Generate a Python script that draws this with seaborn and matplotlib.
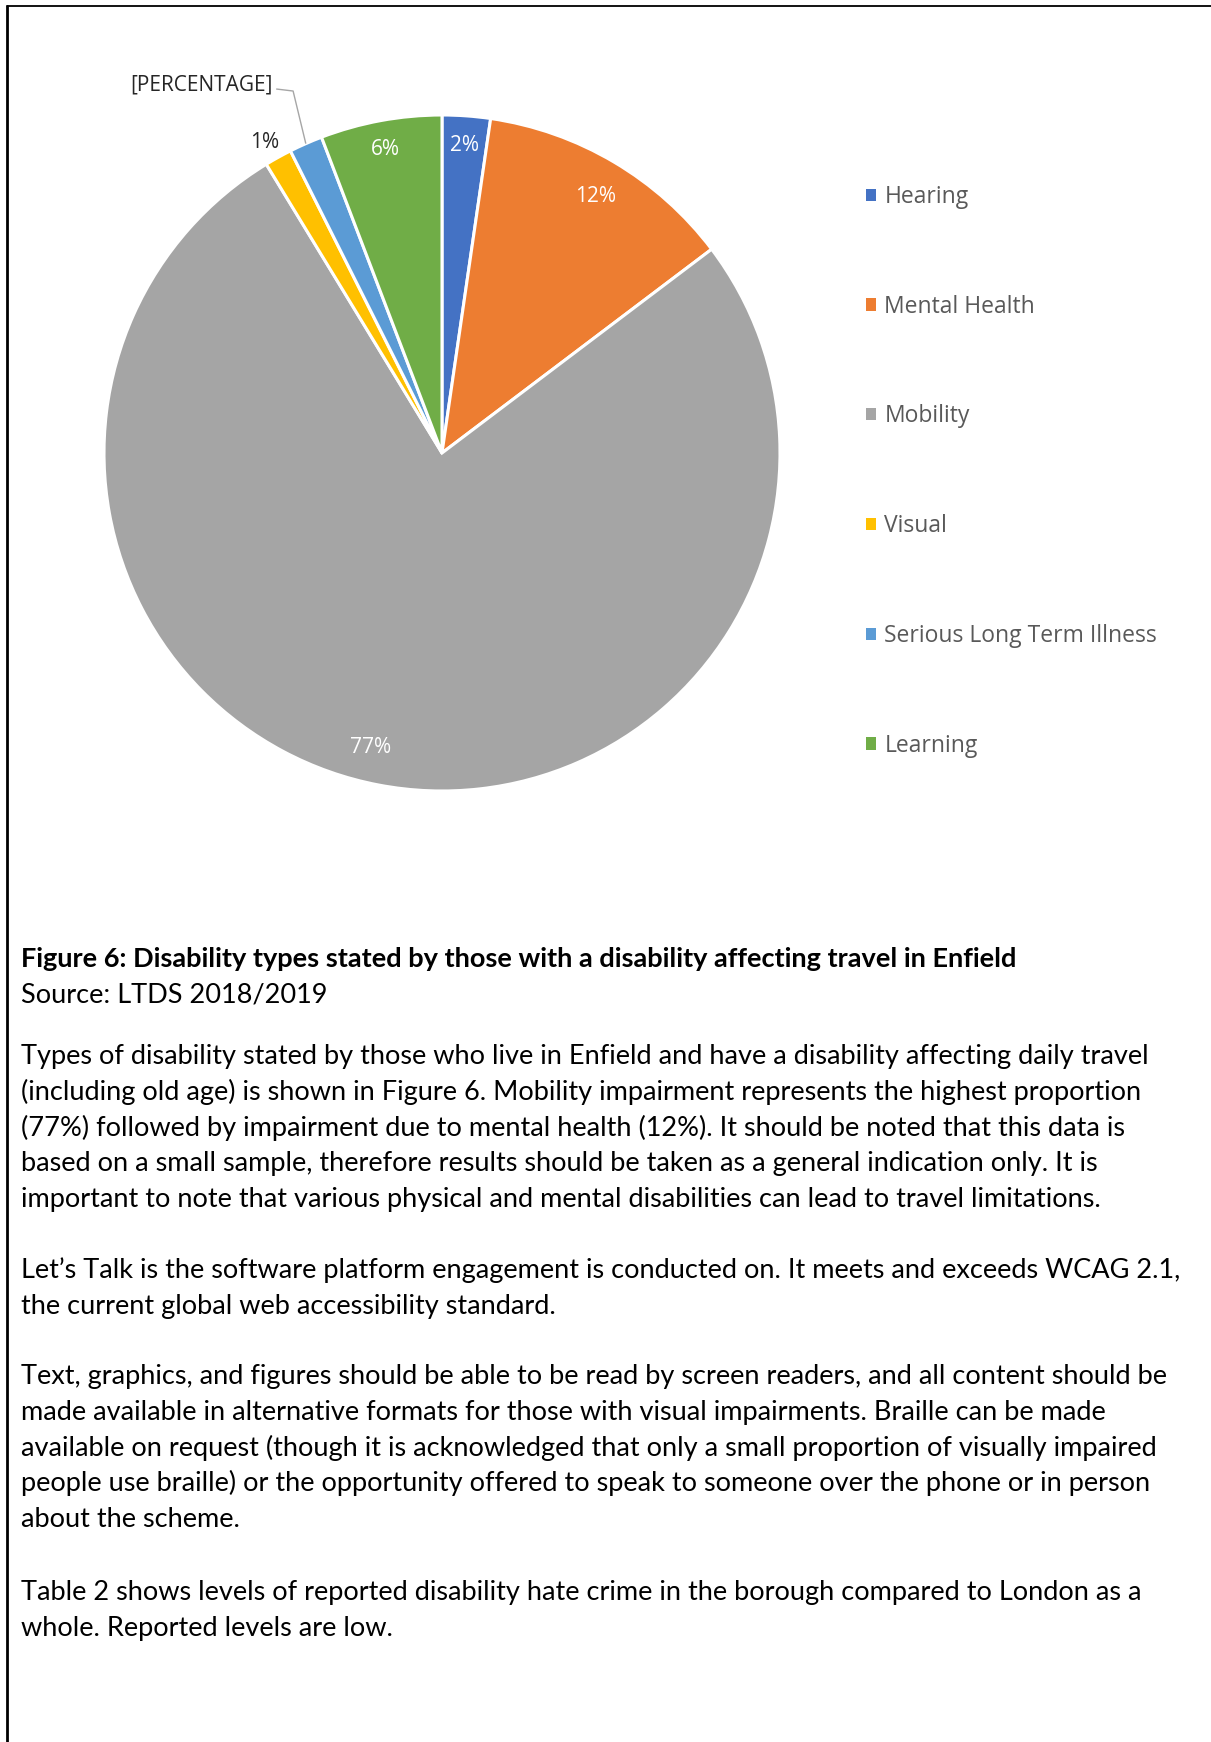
import matplotlib
matplotlib.use("Agg")
import matplotlib.pyplot as plt
from matplotlib.lines import Line2D
from matplotlib.patches import Patch
import numpy as np
import seaborn as sns

# ---- data -------------------------------------------------------------
categories = ["Hearing", "Mental Health", "Mobility", "Visual",
              "Serious Long Term Illness", "Learning"]
shares = [2.3, 12.4, 76.6, 1.3, 1.6, 5.8]          # percent of respondents
label_override = {"Serious Long Term Illness": "[PERCENTAGE]"}
colors = ["#4472C4", "#ED7D31", "#A5A5A5", "#FFC000", "#5B9BD5", "#70AD47"]

caption_title = ("Figure 6: Disability types stated by those with a disability "
                 "affecting travel in Enfield")
caption_source = "Source: LTDS 2018/2019"
paragraphs = [
    ["Types of disability stated by those who live in Enfield and have a disability affecting daily travel",
     "(including old age) is shown in Figure 6. Mobility impairment represents the highest proportion",
     "(77%) followed by impairment due to mental health (12%). It should be noted that this data is",
     "based on a small sample, therefore results should be taken as a general indication only. It is",
     "important to note that various physical and mental disabilities can lead to travel limitations."],
    ["Let\u2019s Talk is the software platform engagement is conducted on. It meets and exceeds WCAG 2.1,",
     "the current global web accessibility standard."],
    ["Text, graphics, and figures should be able to be read by screen readers, and all content should be",
     "made available in alternative formats for those with visual impairments. Braille can be made",
     "available on request (though it is acknowledged that only a small proportion of visually impaired",
     "people use braille) or the opportunity offered to speak to someone over the phone or in person",
     "about the scheme."],
    ["Table 2 shows levels of reported disability hate crime in the borough compared to London as a",
     "whole. Reported levels are low."],
]

# ---- style ------------------------------------------------------------
sns.set_theme(style="white")
plt.rcParams["font.family"] = ["Open Sans", "DejaVu Sans"]
palette = sns.color_palette(colors)

W, H = 1211, 1742
fig = plt.figure(figsize=(W / 100, H / 100), dpi=100)
fig.patch.set_facecolor("white")


def fx(px):
    return px / W


def fy(py):
    return 1 - py / H


# ---- pie --------------------------------------------------------------
cx, cy, R = 442, 453, 338
ax = fig.add_axes([fx(cx - R), fy(cy + R), 2 * R / W, 2 * R / H])
wedges, _ = ax.pie(shares, colors=palette, startangle=90, counterclock=False,
                   radius=1.0,
                   wedgeprops=dict(edgecolor="white", linewidth=2.2))
ax.set_xlim(-1, 1)
ax.set_ylim(-1, 1)
ax.set_aspect("equal")
ax.axis("off")

# radial position of each data label, plus a small nudge in points
label_radius = {"Hearing": 0.92, "Mental Health": 0.89, "Mobility": 0.89,
                "Visual": 1.06, "Learning": 0.92}
label_nudge = {"Mobility": (-11, 1), "Visual": (-2.4, -1.8)}
label_size = 15
for cat, val, w in zip(categories, shares, wedges):
    mid_deg = (w.theta1 + w.theta2) / 2
    mid = np.deg2rad(mid_deg)
    text = label_override.get(cat, f"{round(val)}%")
    if cat in label_override:
        # callout with leader line
        ex, ey = np.cos(mid), np.sin(mid)
        elbow = np.deg2rad(mid_deg - 1.4)
        bx, by = 1.158 * np.cos(elbow), 1.158 * np.sin(elbow)
        ax.plot([bx - 0.05, bx, ex], [by + 0.006, by, ey], color="#A6A6A6",
                lw=1.0, clip_on=False, solid_capstyle="butt")
        ax.text(bx - 0.062, by + 0.018, text, ha="right", va="center",
                fontsize=label_size, color="#262626", clip_on=False)
        continue
    r = label_radius[cat]
    inside = r < 1
    ax.annotate(text, xy=(r * np.cos(mid), r * np.sin(mid)),
                xytext=label_nudge.get(cat, (0, -2)), textcoords="offset points",
                ha="center", va="center", fontsize=label_size,
                color="white" if inside else "#262626", annotation_clip=False)

# ---- legend -----------------------------------------------------------
handles = [Patch(facecolor=c, edgecolor="none") for c in palette]
fig.legend(handles, categories, loc="upper left",
           bbox_to_anchor=(fx(866), fy(185)), frameon=False,
           fontsize=16.5, labelcolor="#595959",
           handlelength=0.45, handleheight=0.45, handletextpad=0.35,
           labelspacing=3.74, borderpad=0, borderaxespad=0)

# ---- page frame -------------------------------------------------------
fig.add_artist(Line2D([fx(7), 1], [fy(6), fy(6)], color="black", lw=1.3))
fig.add_artist(Line2D([fx(7), fx(7)], [fy(6), 0], color="black", lw=2.0))

# ---- caption and body text --------------------------------------------
body_font = ["Lato", "DejaVu Sans"]
body_size = 19.5
x0 = fx(21)
fig.text(x0, fy(967), caption_title, fontsize=body_size, fontweight="bold",
         family=body_font, color="black", va="baseline")
fig.text(x0, fy(1002), caption_source, fontsize=body_size, family=body_font,
         color="black", va="baseline")

para_starts = [1064, 1278, 1384, 1600]
step = 35.8
for start, lines in zip(para_starts, paragraphs):
    for i, line in enumerate(lines):
        fig.text(x0, fy(start + i * step), line, fontsize=body_size,
                 family=body_font, color="black", va="baseline")

fig.savefig("out.png", dpi=100, facecolor="white")
